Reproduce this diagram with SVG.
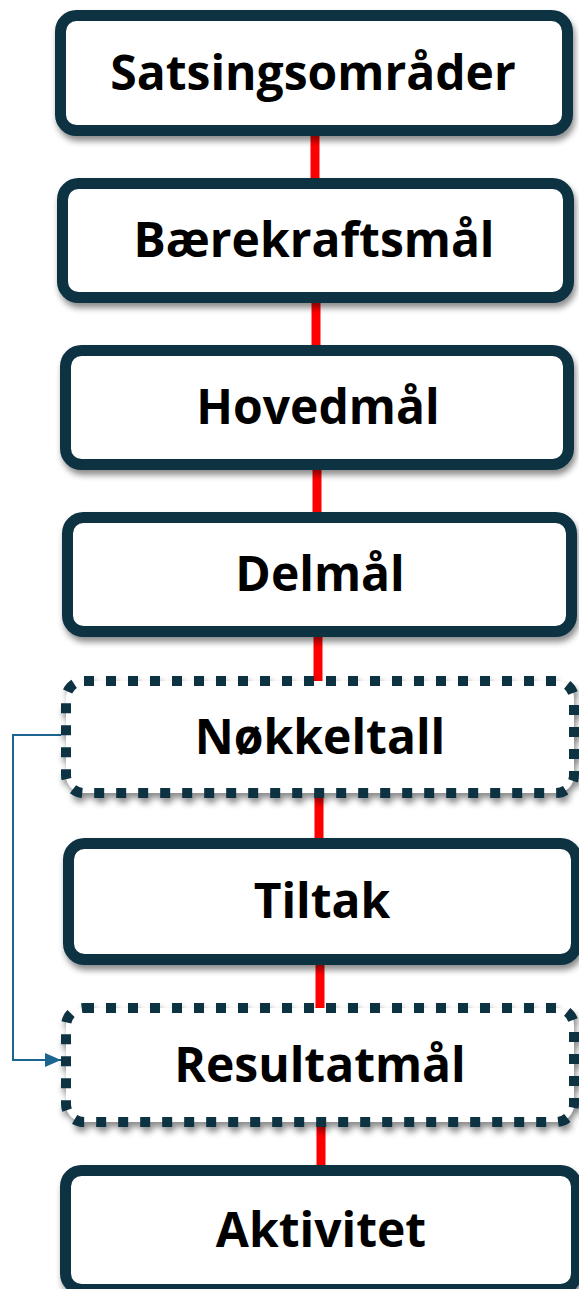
<svg xmlns="http://www.w3.org/2000/svg" width="579" height="1289" viewBox="0 0 579 1289">
<style>
.box{fill:#ffffff;stroke:#0d3043;stroke-width:11;filter:url(#sh)}
.dot{fill:#ffffff;stroke:#0d3043;stroke-width:10;stroke-dasharray:10 12;filter:url(#sh)}
.lbl{font-family:"Open Sans","Noto Sans","Liberation Sans",sans-serif;font-weight:700;font-size:48px;fill:#000000;text-anchor:middle}
.red{stroke:#ff0000;stroke-width:9;fill:none}
.blu{stroke:#1b6590;stroke-width:2;fill:none}
</style>
<defs>
<filter id="sh" x="-10%" y="-20%" width="120%" height="150%">
<feDropShadow dx="2" dy="5" stdDeviation="3" flood-color="#000" flood-opacity="0.45"/>
</filter>
<marker id="arr" markerWidth="16" markerHeight="14" refX="16" refY="7" orient="auto" markerUnits="userSpaceOnUse">
<path d="M0,0 L16,7 L0,14 Z" fill="#1b6590"/>
</marker>
</defs>
<rect width="579" height="1289" fill="#ffffff"/>
<g id="connectors">
<line class="red" x1="315" y1="130" x2="315" y2="185"/>
<line class="red" x1="316" y1="297" x2="316" y2="352"/>
<line class="red" x1="317" y1="464" x2="317" y2="519"/>
<line class="red" x1="318" y1="631" x2="318" y2="683"/>
<line class="red" x1="319" y1="792" x2="319" y2="845"/>
<line class="red" x1="320" y1="959" x2="320" y2="1010"/>
<line class="red" x1="321" y1="1121" x2="321" y2="1172"/>
<polyline class="blu" points="61,735 13,735 13,1060 61,1060" marker-end="url(#arr)"/>
</g>
<g id="n1"><rect class="box" x="60.5" y="15.5" width="507" height="115" rx="16"/><text class="lbl" x="313" y="90">Satsingsområder</text></g>
<g id="n2"><rect class="box" x="62.5" y="183.5" width="506" height="114" rx="16"/><text class="lbl" x="314" y="257">Bærekraftsmål</text></g>
<g id="n3"><rect class="box" x="65.5" y="350.5" width="503" height="114" rx="16"/><text class="lbl" x="318" y="424">Hovedmål</text></g>
<g id="n4"><rect class="box" x="67.5" y="517.5" width="504" height="114" rx="16"/><text class="lbl" x="320" y="591">Delmål</text></g>
<g id="n5"><rect class="dot" x="66" y="681" width="508" height="112" rx="18"/><text class="lbl" x="320" y="754">Nøkkeltall</text></g>
<g id="n6"><rect class="box" x="68.5" y="843.5" width="508" height="116" rx="16"/><text class="lbl" x="322" y="918">Tiltak</text></g>
<g id="n7"><rect class="dot" x="66" y="1008" width="508" height="114" rx="18"/><text class="lbl" x="320" y="1082">Resultatmål</text></g>
<g id="n8"><rect class="box" x="65.5" y="1170.5" width="511" height="119" rx="16"/><text class="lbl" x="321" y="1247">Aktivitet</text></g>
</svg>
